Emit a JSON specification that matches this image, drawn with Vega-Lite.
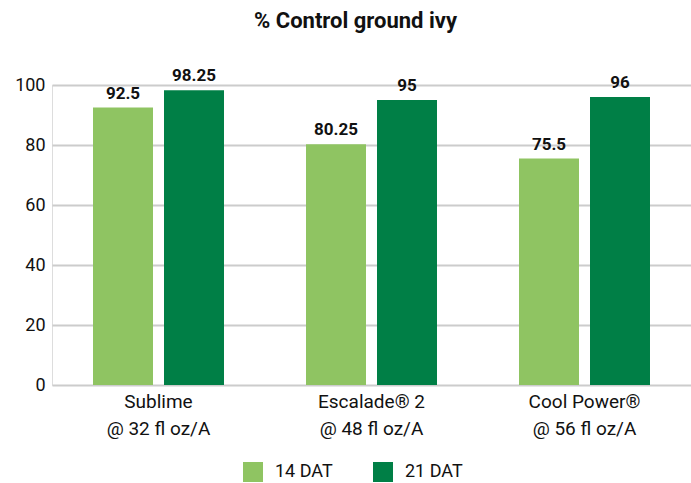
{
  "$schema": "https://vega.github.io/schema/vega-lite/v6.json",
  "width": 639,
  "height": 300,
  "autosize": "none",
  "padding": {"left": 52, "top": 85, "right": 0, "bottom": 98},
  "background": "white",
  "config": {"font": "Roboto"},
  "title": {
    "text": "% Control ground ivy",
    "font": "Roboto",
    "fontSize": 22,
    "fontWeight": "bold",
    "color": "#111",
    "anchor": "middle",
    "dx": -16,
    "offset": 34
  },
  "data": {
    "values": [
      {"product": "Sublime|@ 32 fl oz/A", "timing": "14 DAT", "value": 92.5},
      {"product": "Sublime|@ 32 fl oz/A", "timing": "21 DAT", "value": 98.25},
      {"product": "Escalade® 2|@ 48 fl oz/A", "timing": "14 DAT", "value": 80.25},
      {"product": "Escalade® 2|@ 48 fl oz/A", "timing": "21 DAT", "value": 95},
      {"product": "Cool Power®|@ 56 fl oz/A", "timing": "14 DAT", "value": 75.5},
      {"product": "Cool Power®|@ 56 fl oz/A", "timing": "21 DAT", "value": 96}
    ]
  },
  "encoding": {
    "x": {
      "field": "product",
      "type": "nominal",
      "sort": null,
      "scale": {"paddingInner": 0.385, "paddingOuter": 0.1925},
      "axis": {
        "title": null,
        "labelAngle": 0,
        "labelExpr": "split(datum.label, '|')",
        "labelFont": "Roboto",
        "labelFontSize": 19,
        "labelLineHeight": 27,
        "labelColor": "#111",
        "labelPadding": 7,
        "ticks": false,
        "domain": false
      }
    },
    "xOffset": {"field": "timing", "type": "nominal", "scale": {"paddingInner": 0.155, "paddingOuter": 0}},
    "y": {
      "field": "value",
      "type": "quantitative",
      "scale": {"domain": [0, 100]},
      "axis": {
        "title": null,
        "values": [0, 20, 40, 60, 80, 100],
        "labelFont": "Roboto",
        "labelFontSize": 18,
        "labelColor": "#111",
        "labelPadding": 7,
        "ticks": false,
        "domain": false,
        "grid": true,
        "gridColor": "#cccccc",
        "gridWidth": 2
      }
    }
  },
  "layer": [
    {
      "mark": {"type": "bar"},
      "encoding": {
        "color": {
          "field": "timing",
          "type": "nominal",
          "scale": {"domain": ["14 DAT", "21 DAT"], "range": ["#8fc462", "#007f46"]},
          "legend": {
            "title": null,
            "orient": "none",
            "direction": "horizontal",
            "legendX": 191,
            "legendY": 377,
            "symbolType": "square",
            "symbolSize": 400,
            "symbolStrokeWidth": 0,
            "labelFont": "Roboto",
            "labelFontSize": 18,
            "labelColor": "#111",
            "labelOffset": 12,
            "columnPadding": 40
          }
        }
      }
    },
    {
      "mark": {"type": "text", "baseline": "bottom", "dy": -5, "font": "Roboto", "fontSize": 17, "fontWeight": "bold", "color": "#111"},
      "encoding": {
        "text": {"field": "value", "type": "quantitative"}
      }
    }
  ]
}
